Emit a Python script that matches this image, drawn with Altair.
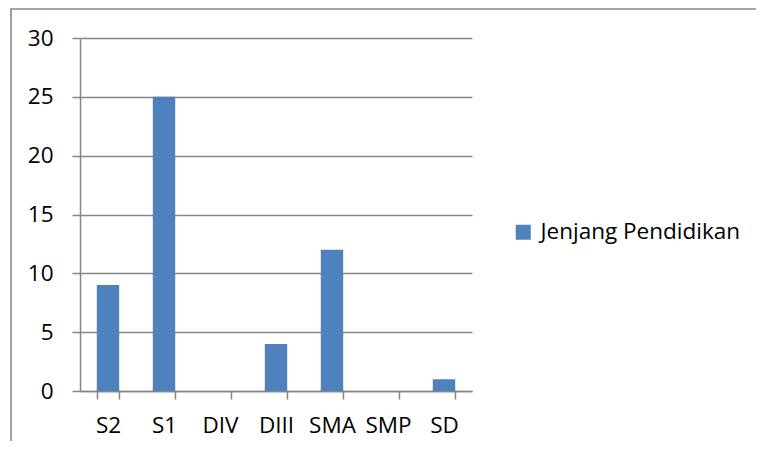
import altair as alt
import pandas as pd

categories = ["S2", "S1", "DIV", "DIII", "SMA", "SMP", "SD"]
values = [9, 25, 0, 4, 12, 0, 1]
series_name = "Jenjang Pendidikan"
y_ticks = [0, 5, 10, 15, 20, 25, 30]

df = pd.DataFrame({
    "kategori": categories,
    "jumlah": values,
    "seri": [series_name] * len(categories),
})

FONT = "Open Sans"
FS = 22.5
GRID = "#868686"
BAR = "#4F81BD"

frame = alt.Chart(pd.DataFrame({"a": [0]})).mark_rect(
    fillOpacity=0, stroke="#888888", strokeWidth=1.6, clip=False
).encode(
    x=alt.value(-69), x2=alt.value(900), y=alt.value(-29), y2=alt.value(600)
)

bars = alt.Chart(df).mark_bar().encode(
    x=alt.X(
        "kategori:N",
        sort=categories,
        scale=alt.Scale(paddingInner=0.6, paddingOuter=0.3),
        axis=alt.Axis(
            title=None, labelAngle=0, tickBand="extent", grid=False,
            domainColor=GRID, domainWidth=1.5, tickColor=GRID, tickWidth=1.5,
            tickSize=8, labelFont=FONT, labelFontSize=FS, labelColor="#000000",
            labelPadding=15,
        ),
    ),
    y=alt.Y(
        "jumlah:Q",
        scale=alt.Scale(domain=[0, 30], nice=False),
        axis=alt.Axis(
            title=None, values=y_ticks, grid=True, gridColor=GRID, gridWidth=1.5,
            domainColor=GRID, domainWidth=1.5, tickColor=GRID, tickWidth=1.5,
            tickSize=8, labelFont=FONT, labelFontSize=FS, labelColor="#000000",
            labelPadding=19,
        ),
    ),
    color=alt.Color(
        "seri:N",
        scale=alt.Scale(range=[BAR]),
        legend=alt.Legend(
            title=None, orient="none", legendX=432, legendY=183,
            symbolType="square", symbolSize=225, symbolStrokeWidth=0,
            labelFont=FONT, labelFontSize=FS, labelColor="#000000",
            labelOffset=6, labelLimit=400, padding=0,
        ),
    ),
)

chart = alt.layer(frame, bars).properties(
    width=392,
    height=353,
    autosize=alt.AutoSizeParams(type="none"),
    padding={"left": 72, "top": 30, "right": 284, "bottom": 50},
).configure_view(strokeWidth=0)

chart.save("out.html", embed_options={"renderer": "svg", "actions": False})
